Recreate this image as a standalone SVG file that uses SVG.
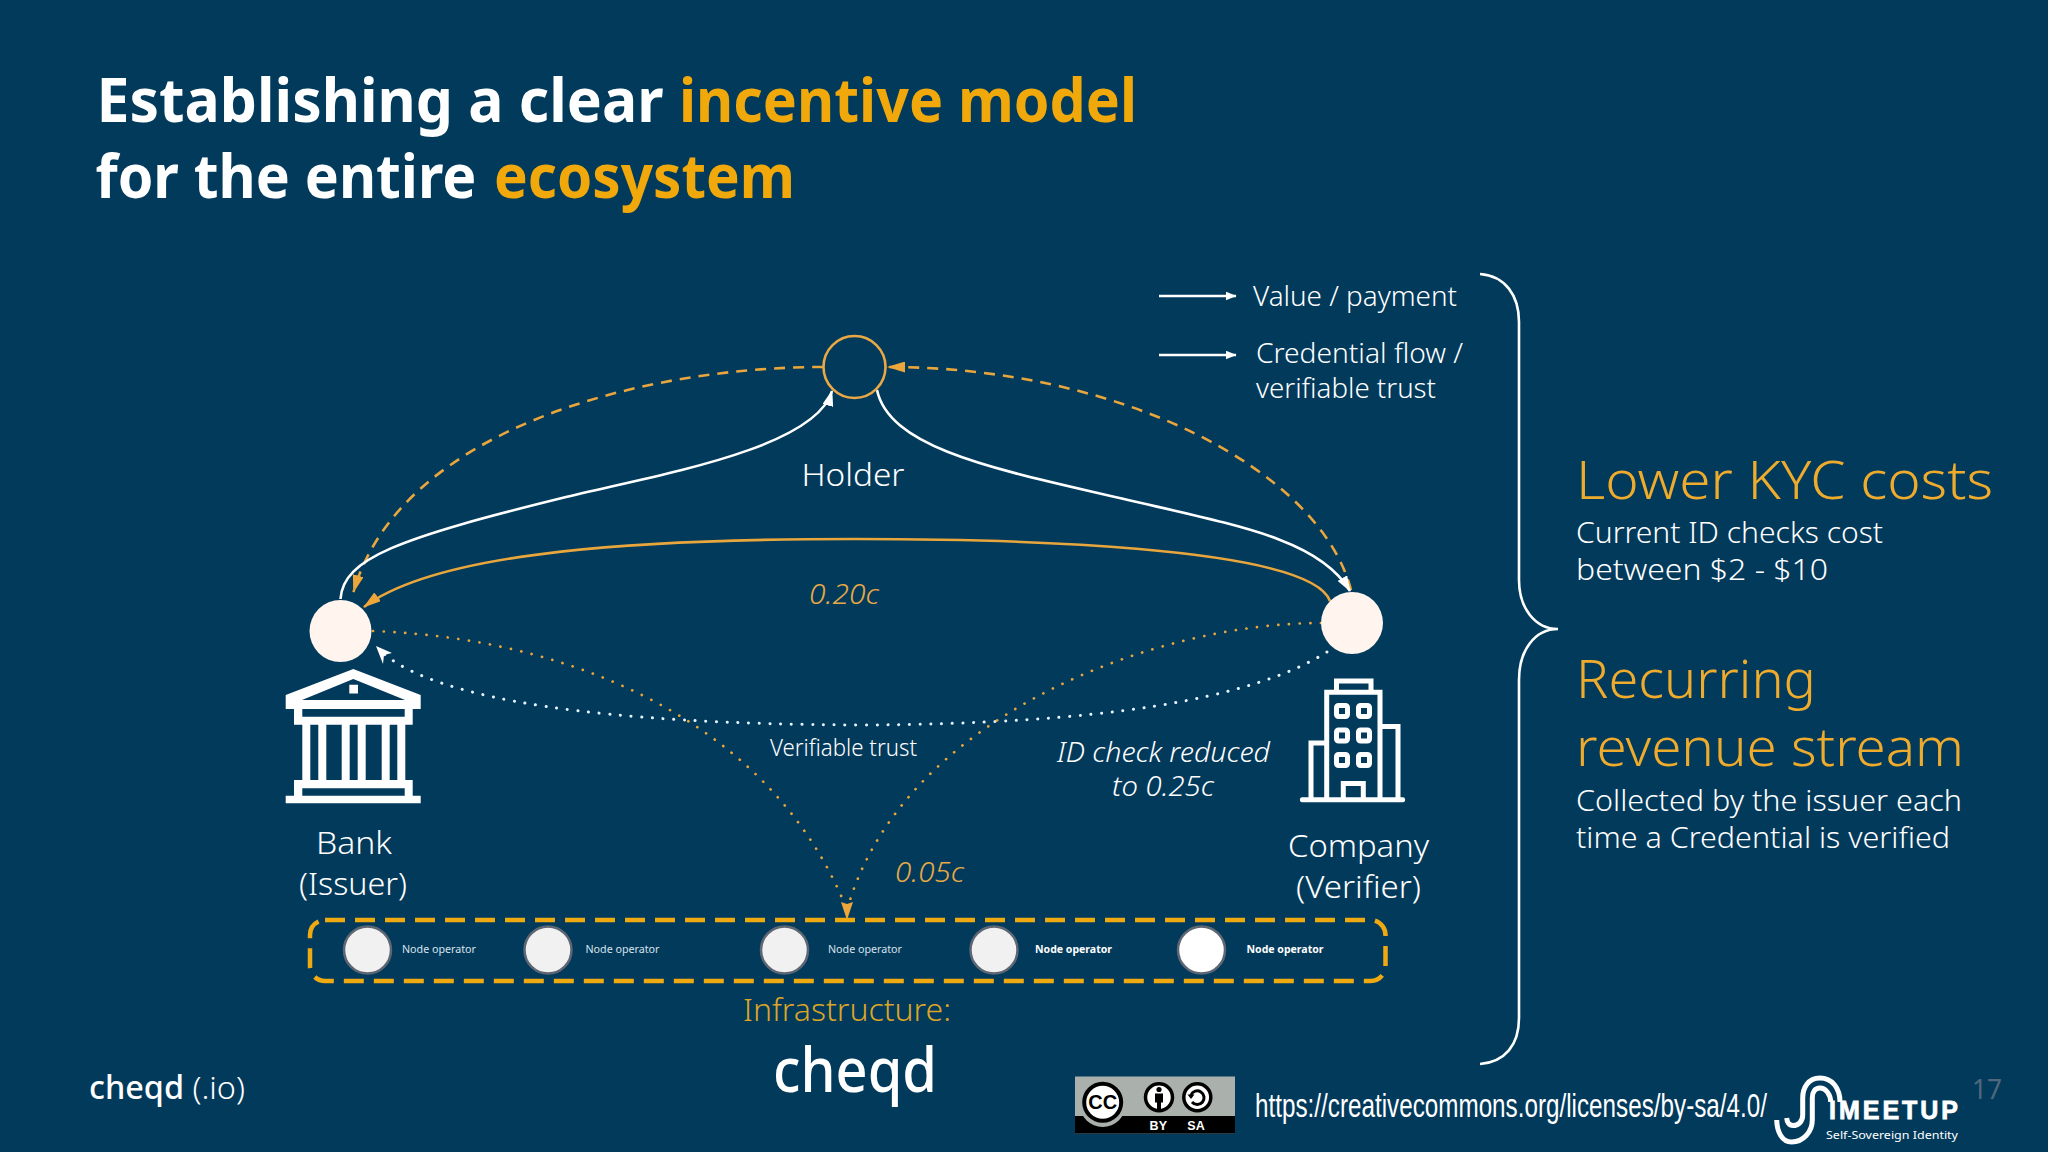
<svg xmlns="http://www.w3.org/2000/svg" width="2048" height="1152" viewBox="0 0 2048 1152">
<style>
text{font-family:"Noto Sans","Open Sans",sans-serif;font-weight:300;fill:#fff}
.t{font-weight:700;font-size:61px}
.o{fill:#f0a80a}
.g{fill:#e9aa45}
.a{fill:#efab2c}
.i{font-style:italic}
.w{fill:none;stroke:#fff;stroke-width:2.6}
.os{fill:none;stroke:#e9a63c;stroke-width:2.6}
.dash{stroke-dasharray:11 8;stroke-width:2.6}
.dw{fill:none;stroke:#e6f3fb;stroke-width:3;stroke-dasharray:.1 10.6;stroke-linecap:round}
.do{fill:none;stroke:#e9a63c;stroke-width:2.7;stroke-dasharray:.1 10.6;stroke-linecap:round}
.n{fill:#f1f1f1;stroke:#5d6672;stroke-width:2.5}
.nl{font-size:11px;font-weight:400;fill:#d8e2ea}
.nb{font-size:11px;font-weight:700;fill:#fff}
.pc{fill:#fff5ee}
.ic{fill:#fff}
.ol{fill:none;stroke:#fff;stroke-width:5}
</style>
<defs>
<marker id="ao" viewBox="0 0 18 11" refX="17" refY="5.5" markerWidth="18" markerHeight="11" markerUnits="userSpaceOnUse" orient="auto"><path d="M0,0L18,5.5L0,11Z" fill="#eda63a"/></marker>
<marker id="aw" viewBox="0 0 16 11" refX="15" refY="5.5" markerWidth="16" markerHeight="11" markerUnits="userSpaceOnUse" orient="auto"><path d="M0,0L16,5.5L0,11Z" fill="#fff"/></marker>
<marker id="al" viewBox="0 0 11 9" refX="10.5" refY="4.5" markerWidth="11" markerHeight="9" markerUnits="userSpaceOnUse" orient="auto"><path d="M0,0L11,4.5L0,9Z" fill="#fff"/></marker>
</defs>
<rect width="2048" height="1152" fill="#023a5c"/>

<g id="title">
<text class="t" x="96.5" y="122" textLength="567" lengthAdjust="spacingAndGlyphs">Establishing a clear</text>
<text class="t o" x="679" y="122" textLength="458" lengthAdjust="spacingAndGlyphs" style="fill:#f0a80a">incentive model</text>
<text class="t" x="95.5" y="198" textLength="381" lengthAdjust="spacingAndGlyphs">for the entire</text>
<text class="t o" x="494" y="198" textLength="301" lengthAdjust="spacingAndGlyphs" style="fill:#f0a80a">ecosystem</text>
</g>

<g id="connectors">
<path class="os dash" marker-end="url(#ao)" d="M823,367C640,367 400,430 353.5,592"/>
<path class="os dash" marker-end="url(#ao)" d="M1351,590C1320,470 1120,367 888,367"/>
<path class="w" marker-end="url(#aw)" d="M340.5,599C343,558 400,538 562,498C650,476 815,450 832,391"/>
<path class="w" marker-end="url(#aw)" d="M877,390C890,450 1000,470 1128,500C1240,526 1320,540 1350,591"/>
<path class="os" marker-end="url(#ao)" d="M1330,601C1310,545 1000,539 855,539C650,539 440,550 364,607"/>
<path class="dw" d="M1327,652C1250,700 1100,724 860,725C600,724 440,700 384,654"/>
<path d="M376,646L392,653L384,655L383,664Z" fill="#fff"/>
<path class="do" d="M373,631C600,640 780,740 847,910"/>
<path class="do" d="M1321,623C1150,623 900,720 847,910"/>
<path d="M847,920L841,902L847,904L853,902Z" fill="#eda63a"/>
<path class="w" marker-end="url(#al)" d="M1159,296H1236"/>
<path class="w" marker-end="url(#al)" d="M1159,355H1236"/>
</g>

<g id="holder">
<circle cx="854.5" cy="367" r="31" fill="none" stroke="#e9a845" stroke-width="2.6"/>
<text x="801.5" y="486" font-size="32" textLength="103" lengthAdjust="spacingAndGlyphs">Holder</text>
</g>

<g id="bank">
<circle class="pc" cx="340.5" cy="631" r="31"/>
<path class="ic" fill-rule="evenodd" d="M353.3,669L420.7,695V709H285.7V695ZM353.3,679L302,700H405ZM349.3,684.7h8.7v8.7h-8.7Z"/>
<path class="ic" fill-rule="evenodd" d="M294,709H412.7V724.7H294ZM302.3,709V716.7H404.7V709Z"/>
<path class="ic" d="M302.3,724h8v57h-8zM318.3,724h8v57h-8zM341.7,724h8v57h-8zM357.7,724h8v57h-8zM381.7,724h8v57h-8zM397.3,724h8v57h-8z"/>
<path class="ic" fill-rule="evenodd" d="M294,780H412.7V795.7H420.7V803.3H285.7V795.7H294ZM302.3,788.3V795.7H404.7V788.3Z"/>
<text x="316" y="854" font-size="32" textLength="76" lengthAdjust="spacingAndGlyphs">Bank</text>
<text x="299" y="895" font-size="32" textLength="108" lengthAdjust="spacingAndGlyphs">(Issuer)</text>
</g>

<g id="company">
<circle class="pc" cx="1352" cy="623" r="31"/>
<rect class="ic" x="1300" y="797.3" width="105" height="5" rx="2"/>
<path class="ol" d="M1326.7,798V692.3H1380V798M1336.5,692V681H1371V692M1380,726.5H1398V798M1326,743H1311V798M1343.3,798V783.5H1363.3V798"/>
<g class="ol" fill="none" stroke-width="5.5">
<rect x="1336.5" y="705.5" width="11" height="11" rx="2"/><rect x="1358.5" y="705.5" width="11" height="11" rx="2"/>
<rect x="1336.5" y="730" width="11" height="11" rx="2"/><rect x="1358.5" y="730" width="11" height="11" rx="2"/>
<rect x="1336.5" y="754.5" width="11" height="11" rx="2"/><rect x="1358.5" y="754.5" width="11" height="11" rx="2"/>
</g>
<text x="1288" y="857" font-size="32" textLength="141" lengthAdjust="spacingAndGlyphs">Company</text>
<text x="1296" y="898" font-size="32" textLength="125" lengthAdjust="spacingAndGlyphs">(Verifier)</text>
</g>

<g id="legend">
<text x="1253" y="306" font-size="28" textLength="204" lengthAdjust="spacingAndGlyphs">Value / payment</text>
<text x="1256" y="363" font-size="28" textLength="207" lengthAdjust="spacingAndGlyphs">Credential flow /</text>
<text x="1256" y="398" font-size="28" textLength="180" lengthAdjust="spacingAndGlyphs">verifiable trust</text>
</g>

<g id="labels">
<text class="g i" x="809" y="604" font-size="28" textLength="70" lengthAdjust="spacingAndGlyphs">0.20c</text>
<text x="770" y="756" font-size="23" textLength="147" lengthAdjust="spacingAndGlyphs">Verifiable trust</text>
<text class="i" x="1057" y="762" font-size="28" textLength="213" lengthAdjust="spacingAndGlyphs">ID check reduced</text>
<text class="i" x="1112" y="796" font-size="28" textLength="102" lengthAdjust="spacingAndGlyphs">to 0.25c</text>
<text class="g i" x="895" y="882" font-size="28" textLength="69" lengthAdjust="spacingAndGlyphs">0.05c</text>
</g>

<g id="infrastructure">
<rect x="310" y="920" width="1075.5" height="61" rx="15" fill="none" stroke="#efaa12" stroke-width="4.5" stroke-dasharray="20 10"/>
<g id="node-1"><circle class="n" cx="367.5" cy="950" r="23.5"/><text class="nl" x="402" y="953" textLength="74" lengthAdjust="spacingAndGlyphs">Node operator</text></g>
<g id="node-2"><circle class="n" cx="548" cy="950" r="23.5"/><text class="nl" x="585.5" y="953" textLength="74" lengthAdjust="spacingAndGlyphs">Node operator</text></g>
<g id="node-3"><circle class="n" cx="784.5" cy="950" r="23.5"/><text class="nl" x="828" y="953" textLength="74" lengthAdjust="spacingAndGlyphs">Node operator</text></g>
<g id="node-4"><circle class="n" cx="994" cy="950" r="23.5"/><text class="nb" x="1035" y="953" textLength="77" lengthAdjust="spacingAndGlyphs">Node operator</text></g>
<g id="node-5"><circle class="n" cx="1201.5" cy="950" r="23.5" style="fill:#fff"/><text class="nb" x="1246.5" y="953" textLength="77" lengthAdjust="spacingAndGlyphs">Node operator</text></g>
<text x="743" y="1021" font-size="32" style="fill:#dca526" textLength="208" lengthAdjust="spacingAndGlyphs">Infrastructure:</text>
<text x="773" y="1092" font-size="62" style="font-weight:500" textLength="164" lengthAdjust="spacingAndGlyphs">cheqd</text>
</g>

<path id="brace" class="w" d="M1480,274C1505,276 1519,295 1519,322V580C1519,608 1535,629 1558,629C1535,629 1519,650 1519,680V1018C1519,1045 1505,1062 1480,1064"/>

<g id="benefits">
<text class="a" x="1576" y="499" font-size="54" textLength="417" lengthAdjust="spacingAndGlyphs">Lower KYC costs</text>
<text x="1576" y="543" font-size="30" textLength="307" lengthAdjust="spacingAndGlyphs">Current ID checks cost</text>
<text x="1576" y="580" font-size="30" textLength="252" lengthAdjust="spacingAndGlyphs">between $2 - $10</text>
<text class="a" x="1576" y="698" font-size="54" textLength="240" lengthAdjust="spacingAndGlyphs">Recurring</text>
<text class="a" x="1576" y="766" font-size="54" textLength="388" lengthAdjust="spacingAndGlyphs">revenue stream</text>
<text x="1576" y="811" font-size="30" textLength="386" lengthAdjust="spacingAndGlyphs">Collected by the issuer each</text>
<text x="1576" y="848" font-size="30" textLength="374" lengthAdjust="spacingAndGlyphs">time a Credential is verified</text>
</g>

<g id="footer">
<text x="89" y="1099" font-size="32" textLength="156" lengthAdjust="spacingAndGlyphs"><tspan style="font-weight:500">cheqd</tspan> (.io)</text>
<text x="1972" y="1099" font-size="28" style="fill:#51687c;font-weight:400" textLength="30" lengthAdjust="spacingAndGlyphs">17</text>
<text x="1255" y="1117" font-size="33" style="font-family:'Liberation Sans',sans-serif;font-weight:400" textLength="512" lengthAdjust="spacingAndGlyphs">https://creativecommons.org/licenses/by-sa/4.0/</text>
</g>

<g id="cc-badge">
<rect x="1075" y="1076.5" width="160" height="57" fill="#aab0ab"/>
<rect x="1075" y="1116" width="160" height="17.5" fill="#000"/>
<circle cx="1102.7" cy="1104" r="23" fill="#aab0ab"/>
<circle cx="1102.7" cy="1102.3" r="18.5" fill="#fff" stroke="#000" stroke-width="4"/>
<text x="1102.7" y="1109" font-size="20" text-anchor="middle" style="fill:#000;font-family:'Liberation Sans',sans-serif;font-weight:700">CC</text>
<circle cx="1159" cy="1097.3" r="13.5" fill="#fff" stroke="#000" stroke-width="3.5"/>
<circle cx="1159" cy="1089.5" r="2.6" fill="#000"/>
<path d="M1155,1093.5h8v9h-2v7h-4v-7h-2Z" fill="#000"/>
<circle cx="1197.3" cy="1097.3" r="13.5" fill="#fff" stroke="#000" stroke-width="3.5"/>
<path d="M1191,1095A6.8,6.8 0 1 1 1192,1102" fill="none" stroke="#000" stroke-width="3"/>
<path d="M1187.5,1094.5h7l-3.5,4.5Z" fill="#000"/>
<text x="1158.3" y="1130" font-size="12.5" text-anchor="middle" style="font-family:'Liberation Sans',sans-serif;font-weight:700">BY</text>
<text x="1196" y="1130" font-size="12.5" text-anchor="middle" style="font-family:'Liberation Sans',sans-serif;font-weight:700">SA</text>
</g>

<g id="ssi-logo">
<path d="M1840,1102C1840,1088 1832,1078 1820,1078C1808,1078 1802.7,1088 1802.7,1098V1115C1802.7,1122 1798,1125.5 1793,1125.5C1789,1125.5 1787,1122 1786.7,1118" fill="none" stroke="#fff" stroke-width="5"/>
<path d="M1830.7,1102C1830.7,1095 1826,1088 1820,1088C1815,1088 1812.3,1092 1812.3,1098V1120C1812.3,1132 1803,1142 1791.7,1142C1782,1142 1777,1132 1776.7,1120" fill="none" stroke="#fff" stroke-width="5"/>
<text x="1829" y="1119" font-size="25" style="font-family:'Liberation Sans',sans-serif;font-weight:700;stroke:#fff;stroke-width:.8" textLength="129">IMEETUP</text>
<text x="1826" y="1139" font-size="11" style="font-weight:400" textLength="132" lengthAdjust="spacingAndGlyphs">Self-Sovereign Identity</text>
</g>
</svg>
